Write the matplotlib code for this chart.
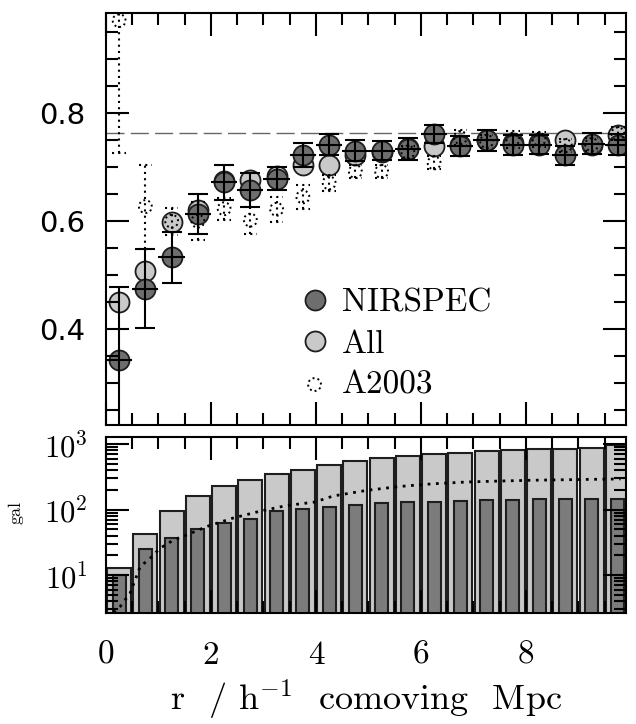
import numpy as np
import matplotlib
matplotlib.use('Agg')
import matplotlib.pyplot as plt
from matplotlib.ticker import MultipleLocator, FuncFormatter, LogLocator, NullFormatter

plt.rcParams['mathtext.fontset'] = 'cm'
plt.rcParams['axes.unicode_minus'] = False

# ---------------- data ----------------
r_bins = [0.25, 0.75, 1.25, 1.75, 2.25, 2.75, 3.25, 3.75, 4.25, 4.75,
          5.25, 5.75, 6.25, 6.75, 7.25, 7.75, 8.25, 8.75, 9.25, 9.75]
bin_half = 0.25

nirspec_frac = [0.343, 0.475, 0.533, 0.613, 0.672, 0.658, 0.679, 0.723, 0.742, 0.731,
                0.731, 0.734, 0.762, 0.739, 0.750, 0.741, 0.742, 0.722, 0.744, 0.742]
nirspec_err = [0.135, 0.073, 0.047, 0.037, 0.032, 0.031, 0.022, 0.022, 0.020, 0.019,
               0.018, 0.020, 0.017, 0.018, 0.019, 0.019, 0.018, 0.018, 0.020, 0.019]
all_frac = [0.450, 0.508, 0.599, 0.620, 0.675, 0.676, 0.684, 0.705, 0.705, 0.722,
            0.728, 0.735, 0.739, 0.742, 0.750, 0.745, 0.745, 0.751, 0.742, 0.760]
a2003_frac = [0.972, 0.627, 0.600, 0.600, 0.623, 0.602, 0.622, 0.645, 0.671, 0.692,
              0.692, 0.728, 0.708, 0.755, 0.748, 0.752, 0.752, 0.740, 0.742, 0.762]
a2003_err = [0.246, 0.078, 0.025, 0.035, 0.020, 0.025, 0.023, 0.022, 0.015, 0.012,
             0.012, 0.012, 0.012, 0.014, 0.012, 0.016, 0.014, 0.012, 0.012, 0.012]
ref_level = 0.764

n_all = [11.9, 41.7, 95, 157, 224, 282, 346, 405, 470, 540,
         600, 660, 705, 740, 780, 800, 825, 850, 875, 965]
n_nirspec = [8.9, 24, 36, 48.6, 61, 71.6, 95, 100, 107, 115,
             124, 127, 131, 134, 138, 140, 143, 143, 143, 143]
model_r = [0.14, 0.27, 0.46, 0.65, 0.84, 1.03, 1.28, 1.54, 1.92, 2.42, 2.93,
           3.44, 3.98, 4.33, 4.97, 5.6, 6.23, 6.87, 7.5, 8.14, 8.78, 9.8]
model_n = [2.7, 3.3, 5.3, 13.4, 18, 25.6, 34, 41, 55, 74, 94,
           115, 130, 161, 196, 225, 247, 263, 272, 280, 285, 293]

x_ticks = [0, 2, 4, 6, 8]
legend_labels = ['NIRSPEC', 'All', 'A2003']
xlabel = r'r  / h$^{-1}$  comoving  Mpc'

# ---------------- style ----------------
dark = '#6e6e6e'
light = '#c9c9c9'
darkbar = '#7c7c7c'
edge = '#1e1e1e'
W, H = 636, 724

fig = plt.figure(figsize=(W / 100, H / 100), dpi=100)
ax1 = fig.add_axes([106 / W, 1 - 425 / H, 520 / W, 412 / H])
ax2 = fig.add_axes([106 / W, 1 - 613 / H, 520 / W, 176 / H])

r = np.array(r_bins)

# ---- top panel ----
ax1.axhline(ref_level, color='#666666', lw=1.0, dashes=(13, 4.5), zorder=1)
l_all, = ax1.plot(r_bins, all_frac, 'o', ms=14.4, mfc=light, mec=edge, mew=1.3,
                  zorder=3, label=legend_labels[1])
l_nir, = ax1.plot(r_bins, nirspec_frac, 'o', ms=14.4, mfc=dark, mec=edge, mew=1.3,
                  zorder=4, label=legend_labels[0])
ax1.errorbar(r_bins, nirspec_frac, yerr=nirspec_err, fmt='none', ecolor='k',
             elinewidth=1.5, capsize=7, capthick=1.5, zorder=5)
ax1.errorbar(r_bins, nirspec_frac, xerr=bin_half, fmt='none', ecolor='k',
             elinewidth=1.5, capsize=0, zorder=5)

af = np.array(a2003_frac)
ae = np.array(a2003_err)
dot = (0, (1, 2))
ax1.vlines(r, af - ae, af + ae, colors='k', linestyles=dot, lw=1.5, zorder=6)
ax1.hlines(af + ae, r - 0.13, r + 0.13, colors='k', linestyles=dot, lw=1.5, zorder=6)
ax1.hlines(af - ae, r - 0.13, r + 0.13, colors='k', linestyles=dot, lw=1.5, zorder=6)
sc = ax1.scatter(r_bins, a2003_frac, s=85, facecolors='none', edgecolors='k',
                 linewidths=1.4, linestyle=(0, (1, 1.6)), zorder=6, label=legend_labels[2])

ax1.set_xlim(0, 9.905)
ax1.set_ylim(0.222, 0.986)
ax1.xaxis.set_major_locator(MultipleLocator(2))
ax1.xaxis.set_minor_locator(MultipleLocator(0.5))
ax1.yaxis.set_major_locator(MultipleLocator(0.2))
ax1.yaxis.set_minor_locator(MultipleLocator(0.05))
ax1.tick_params(labelbottom=False)

leg = ax1.legend(handles=[l_nir, l_all, sc], labels=legend_labels,
                 loc='upper left', bbox_to_anchor=(0.369, 0.331),
                 frameon=False, borderpad=0, borderaxespad=0,
                 handlelength=1.0, handletextpad=0.32, labelspacing=0.34,
                 numpoints=1, scatterpoints=1,
                 prop={'family': ['cmr10', 'DejaVu Serif'], 'size': 24})

# ---- bottom panel ----
ax2.set_yscale('log')
ax2.bar(r_bins, n_all, width=0.46, bottom=1, color=light, edgecolor=edge, lw=1.5, zorder=1)
ax2.bar(r_bins, n_nirspec, width=0.25, bottom=1, color=darkbar, edgecolor=edge, lw=1.5, zorder=2)
ax2.plot(model_r, model_n, color='k', lw=2.0, linestyle=(0, (1, 2)), zorder=3)

ax2.set_xlim(0, 9.905)
ax2.set_ylim(2.63, 1279)
ax2.xaxis.set_major_locator(MultipleLocator(2))
ax2.xaxis.set_minor_locator(MultipleLocator(0.5))
ax2.set_xticks(x_ticks, labels=[str(v) for v in x_ticks])
ax2.yaxis.set_major_locator(LogLocator(base=10, numticks=10))
ax2.yaxis.set_minor_locator(LogLocator(base=10, subs=np.arange(2, 10), numticks=20))
ax2.yaxis.set_major_formatter(FuncFormatter(lambda v, p: r'$\mathsf{10^{%d}}$' % round(np.log10(v))))
ax2.yaxis.set_minor_formatter(NullFormatter())
ax2.set_xlabel(xlabel, fontsize=26, family=['cmr10', 'DejaVu Serif'], labelpad=6)

for ax in (ax1, ax2):
    ax.tick_params(which='both', direction='in', top=True, right=True, width=1.5, color='k')
    ax.tick_params(which='major', length=16.5)
    ax.tick_params(which='minor', length=8.5)
    ax.xaxis.set_zorder(10)
    ax.yaxis.set_zorder(10)
    for sp in ax.spines.values():
        sp.set_linewidth(1.5)
        sp.set_zorder(11)

ax1.tick_params(axis='y', labelsize=21, pad=15)
for t in ax1.get_yticklabels():
    t.set_family('DejaVu Sans')
ax2.tick_params(axis='y', labelsize=22, pad=13)
ax2.tick_params(axis='x', labelsize=24, pad=20)
for t in ax2.get_xticklabels():
    t.set_family(['cmr10', 'DejaVu Serif'])

# remnant of the cropped y-axis title
fig.text(16 / W, 1 - 513 / H, 'gal', rotation=90, fontsize=13,
         family=['cmr10', 'DejaVu Serif'], ha='center', va='center')

fig.savefig('out.png', dpi=100)
